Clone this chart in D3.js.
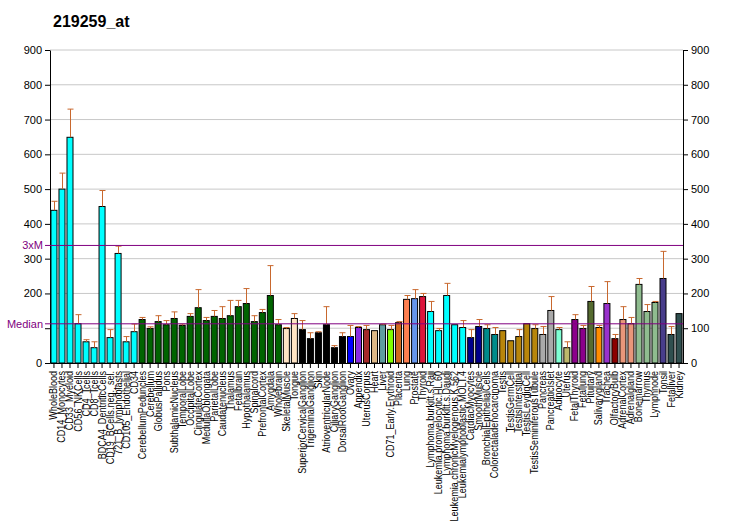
<!DOCTYPE html>
<html><head><meta charset="utf-8">
<script src="https://cdn.jsdelivr.net/npm/d3@7"></script>
<style>body{margin:0;background:#fff;} svg{display:block;font-family:"Liberation Sans",Arial,sans-serif;}</style>
</head><body><svg id="c" width="732" height="530"></svg>
<script>
const title = "219259_at";
const categories = ["WholeBlood","CD14_Monocytes","CD33_Myeloid","CD56_NKCells","CD4_Tcells","CD8_Tcells","BDCA4_DentriticCells","CD19_BCells.neg._sel.","721_B_lymphoblasts","CD105_Endothelial","CD34","CerebellumPeduncles","Cerebellum","GlobusPallidus","Pons","SubthalamicNucleus","TemporalLobe","OccipitalLobe","CingulateCortex","MedullaOblongata","ParietalLobe","Caudatenucleus","Thalamus","Fetalbrain","Hypothalamus","Spinalcord","PrefrontalCortex","Amygdala","Wholebrain","SkeletalMuscle","Tongue","SuperiorCervicalGanglion","TrigeminalGanglion","Skin","AtrioventricularNode","CiliaryGanglion","DorsalRootGanglion","Ovary","Appendix","UterusCorpus","Heart","Liver","CD71_Early.Erythroid","Placenta","Lung","Prostate","Thyroid","Lymphoma.burkitt.s.Raji","Leukemia.promyelocytic.HL.60","Lymphoma.burkitt.s.Daudi","Leukemia.chronicMyelogenous.K.562","Leukemialymphoblastic.MOLT.4","CardiacMyocytes","SmoothMuscle","BronchialEpithelialCells","Colorectaladenocarcinoma","Testis","TestisGermCell","TestisInterstitial","TestisLeydigCell","TestisSeminiferousTubule","Pancreas","PancreaticIslet","Adipocyte","Uterus","FetalThyroid","Fetallung","Pituitary","Salivarygland","Trachea","OlfactoryBulb","AdrenalCortex","Adrenalgland","Bonemarrow","Thymus","Lymphnode","Tonsil","Fetalliver","Kidney"];
const values = [439,500,649,113,61,44,450,73,315,61,90,125,99,119,110,128,108,134,159,122,134,128,136,162,171,119,145,194,110,99,128,96,70,87,110,44,76,76,102,96,93,110,96,116,183,185,191,148,93,194,110,102,73,105,99,82,93,64,76,113,99,82,151,96,44,125,99,177,102,171,70,125,113,226,148,174,243,82,142];
const errTops = [465,546,730,139,67,61,496,96,336,76,112,131,104,136,122,147,112,142,211,131,151,162,180,180,214,136,154,280,125,102,142,122,87,90,162,50,87,108,105,108,93,112,108,119,194,211,200,177,99,229,110,122,96,125,110,102,93,64,96,113,110,105,191,102,61,139,108,220,108,234,82,162,131,243,168,177,321,105,142];
const colors = ["#00FFFF","#00FFFF","#00FFFF","#00FFFF","#00FFFF","#00FFFF","#00FFFF","#00FFFF","#00FFFF","#00FFFF","#00FFFF",
"#006400","#006400","#006400","#006400","#006400","#006400","#006400","#006400","#006400","#006400","#006400","#006400","#006400","#006400","#006400","#006400","#006400","#006400",
"#FFE4C4","#FFE4C4","#000000","#000000","#000000","#000000","#000000","#000000",
"#0000FF","#8A2BE2","#A52A2A","#DEB887","#5F9EA0","#7FFF00","#D2691E","#FF7F50","#6495ED","#DC143C",
"#00FFFF","#00FFFF","#00FFFF","#00FFFF","#00FFFF","#00008B","#00008B","#008B8B","#008B8B",
"#B8860B","#B8860B","#B8860B","#B8860B","#B8860B","#A9A9A9","#A9A9A9","#7FFFD4","#BDB76B","#8B008B","#8B008B",
"#556B2F","#FF8C00","#9932CC","#8B0000","#E9967A","#E9967A","#8FBC8F","#8FBC8F","#8FBC8F","#483D8B","#2F4F4F","#2F4F4F"];
const yTicks = [0,100,200,300,400,500,600,700,800,900];
const median = 112.7;
const threeXM = 338;

const svg = d3.select("#c");
const L = 50, R = 683, T = 50, B = 363;
const x = d3.scaleBand().domain(categories).range([L, R]).paddingInner(0.25).paddingOuter(0.12);
const y = d3.scaleLinear().domain([0, 900]).range([B, T]);

svg.append("text").attr("x", 53).attr("y", 27).attr("font-size", 16).attr("font-weight", "bold").text(title);

// grid
svg.append("g").selectAll("line").data(yTicks.filter(d => d > 0)).join("line")
  .attr("x1", L).attr("x2", R).attr("y1", d => y(d)).attr("y2", d => y(d))
  .attr("stroke", "#c8c8c8").attr("stroke-width", 1);

// axes
const la = svg.append("g").attr("transform", `translate(${L},0)`).call(d3.axisLeft(y).tickValues(yTicks).tickSize(5).tickSizeOuter(0));
const ra = svg.append("g").attr("transform", `translate(${R},0)`).call(d3.axisRight(y).tickValues(yTicks).tickSize(5).tickSizeOuter(0));
[la, ra].forEach(a => { a.selectAll("text").attr("font-size", 11).attr("font-family", "Liberation Sans, Arial, sans-serif").attr("fill", "#000"); a.select(".domain").attr("stroke", "#000"); });
// the left 100 label is hidden behind the Median label in the reference
la.selectAll(".tick").filter(d => d === 100).select("text").remove();

// bars
svg.append("g").selectAll("rect").data(categories).join("rect")
  .attr("x", d => x(d)).attr("width", x.bandwidth())
  .attr("y", (d, i) => y(values[i])).attr("height", (d, i) => y(0) - y(values[i]))
  .attr("fill", (d, i) => colors[i]).attr("stroke", "#000").attr("stroke-width", 1);

// error bars
const eg = svg.append("g").attr("stroke", "#C8682E").attr("stroke-width", 1);
categories.forEach((c, i) => {
  if (errTops[i] <= values[i]) return;
  const cx = Math.round(x(c) + x.bandwidth() / 2) + 0.5;
  eg.append("line").attr("x1", cx).attr("x2", cx).attr("y1", y(values[i])).attr("y2", y(errTops[i]));
  eg.append("line").attr("x1", cx - 3).attr("x2", cx + 3).attr("y1", y(errTops[i])).attr("y2", y(errTops[i]));
});

// reference lines
[[threeXM, "3xM"], [median, "Median"]].forEach(([v, lab]) => {
  svg.append("line").attr("x1", L - 5).attr("x2", R).attr("y1", y(v)).attr("y2", y(v)).attr("stroke", "#800080").attr("stroke-width", 1);
  svg.append("text").attr("x", L - 7).attr("y", y(v) + 4).attr("text-anchor", "end").attr("font-size", 11).attr("fill", "#800080").text(lab);
});

// x axis
const xa = svg.append("g").attr("transform", `translate(0,${B})`).call(d3.axisBottom(x).tickSize(5).tickSizeOuter(0));
xa.select(".domain").attr("stroke", "#000");
xa.selectAll("text").attr("font-size", 10.5).attr("font-family", "Liberation Sans, Arial, sans-serif").attr("fill", "#000")
  .attr("text-anchor", "end").attr("dy", null).attr("y", 0).attr("x", 0)
  .attr("transform", "translate(3.5,8) rotate(-90) scale(0.86,1)");
</script></body></html>
